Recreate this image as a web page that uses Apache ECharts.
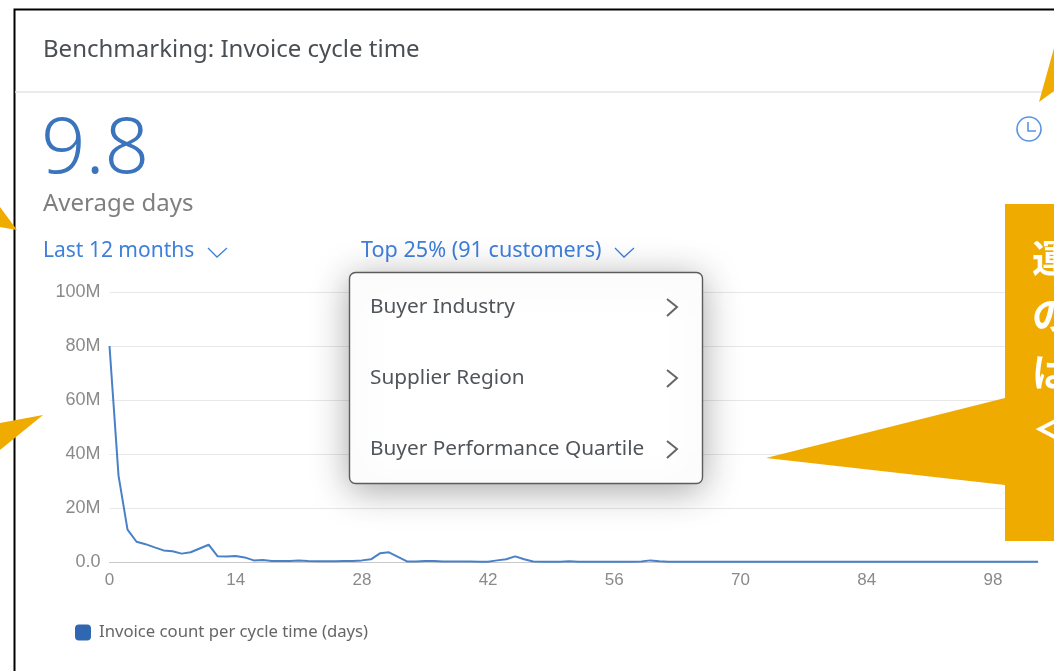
<!DOCTYPE html>
<html>
<head>
<meta charset="utf-8">
<style>
  html, body { margin: 0; padding: 0; background: #fff; }
  #chart-container { width: 1054px; height: 671px; }
</style>
<script src="https://cdn.jsdelivr.net/npm/echarts@6/dist/echarts.min.js"></script>
</head>
<body>
<div id="chart-container"></div>
<script>
// invoices (millions) per cycle time, days 0..103
const cycleDays = [];
for (let d = 0; d <= 103; d++) cycleDays.push(d);
const invoiceCounts = [
  80, 32, 12, 7.5, 6.6, 5.4, 4.3, 4, 3.1, 3.6, 5, 6.4, 2.1, 2, 2.2, 1.7, 0.6, 0.7, 0.4, 0.4,
  0.4, 0.6, 0.4, 0.3, 0.3, 0.3, 0.4, 0.4, 0.6, 1, 3.2, 3.6, 1.9, 0.2, 0.2, 0.4, 0.4, 0.2, 0.2, 0.2,
  0.2, 0.1, 0.1, 0.6, 1, 2.1, 1, 0.2, 0.1, 0.1, 0.1, 0.3, 0.1, 0.1, 0.1, 0.1, 0.1, 0.1, 0.1, 0.2,
  0.6, 0.3, 0.1, 0.1, 0.1, 0.1, 0.1, 0.1, 0.1, 0.1, 0.1, 0.1, 0.1, 0.1, 0.1, 0.1, 0.1, 0.1, 0.1, 0.1,
  0.1, 0.1, 0.1, 0.1, 0.1, 0.1, 0.1, 0.1, 0.1, 0.1, 0.1, 0.1, 0.1, 0.1, 0.1, 0.1, 0.1, 0.1, 0.1, 0.1,
  0.1, 0.1, 0.1, 0.1
];
const seriesName = 'Invoice count per cycle time (days)';
const menuItems = ['Buyer Industry', 'Supplier Region', 'Buyer Performance Quartile'];
const calloutChars = ['運', 'の', 'は', '＜'];

const uiFont = '"Noto Sans", "Open Sans", sans-serif';
const axisFont = '"Liberation Sans", Arial, sans-serif';
const orange = '#f0ab00';
const linkBlue = '#3f7fdc';

function label(text, x, y, size, color, z, weight) {
  return {
    type: 'text', z: z || 5,
    style: { text, x, y, fill: color, font: (weight || 400) + ' ' + size + 'px ' + uiFont, textVerticalAlign: 'middle' }
  };
}
function stroke(points, color, width, z) {
  return {
    type: 'polyline', z: z || 5,
    shape: { points },
    style: { stroke: color, lineWidth: width, fill: null }
  };
}
function wedge(points) {
  return { type: 'polygon', z: 30, shape: { points }, style: { fill: orange } };
}

const chart = echarts.init(document.getElementById('chart-container'));

const graphics = [
  // card frame and header
  stroke([[14.5, 671], [14.5, 9.5], [1054, 9.5]], '#000', 2, 4),
  stroke([[15, 92], [1054, 92]], '#e4e4e4', 1.5, 4),
  label('Benchmarking: Invoice cycle time', 43, 50, 24, '#4a4f54'),
  label('9.8', 41, 151, 78, '#3a74bd', 5, 300),
  label('Average days', 43, 204, 24, '#7f7f7f'),
  label('Last 12 months', 43, 251, 21, linkBlue),
  stroke([[208, 248], [217, 257], [227, 248]], linkBlue, 1.3),
  label('Top 25% (91 customers)', 361, 251, 21.6, linkBlue),
  stroke([[615, 248], [624, 257], [634, 248]], linkBlue, 1.3),
  // clock icon
  { type: 'circle', z: 5, shape: { cx: 1029, cy: 129, r: 12 }, style: { fill: '#fff', stroke: '#5a93e4', lineWidth: 1.6 } },
  stroke([[1028, 122], [1028, 131], [1036, 131]], '#5a93e4', 1.6),
  // dropdown menu
  {
    type: 'rect', z: 20,
    shape: { x: 349.5, y: 272.5, width: 353, height: 211, r: 6 },
    style: { fill: '#fff', stroke: '#5c5c5c', lineWidth: 1.4, shadowBlur: 36, shadowColor: 'rgba(0,0,0,0.34)', shadowOffsetY: 6 }
  }
];
menuItems.forEach((item, i) => {
  const cy = 307 + i * 71;
  graphics.push(label(item, 370, cy, 20.8, '#50555a', 21));
  graphics.push(stroke([[667, cy - 8], [677, cy], [667, cy + 9]], '#666', 2, 21));
});
// orange callouts on top of the screenshot
graphics.push(wedge([[0, 207], [17, 230], [0, 227]]));
graphics.push(wedge([[0, 423], [43, 415], [0, 450]]));
graphics.push(wedge([[1054, 48], [1039, 102], [1054, 91]]));
graphics.push(wedge([[766, 458], [1005, 398], [1005, 485]]));
graphics.push({ type: 'rect', z: 30, shape: { x: 1005, y: 204, width: 49, height: 337 }, style: { fill: orange } });
calloutChars.forEach((ch, i) => {
  graphics.push({
    type: 'text', z: 31,
    style: { text: ch, x: 1032, y: 258 + i * 57, fill: '#fff', font: '700 38px "Noto Sans CJK JP", sans-serif', textVerticalAlign: 'middle' }
  });
});

const option = {
  animation: false,
  backgroundColor: '#fff',
  grid: { left: 109.5, top: 292, width: 928.5, height: 270, containLabel: false },
  xAxis: {
    type: 'value', min: 0, max: 103, interval: 14,
    axisLine: { onZero: true, lineStyle: { color: '#c8c8c8', width: 1 } },
    axisTick: { show: false },
    splitLine: { show: false },
    axisLabel: { color: '#8a8a8a', fontSize: 17, fontFamily: axisFont, margin: 10, showMaxLabel: false }
  },
  yAxis: {
    type: 'value', min: 0, max: 100, interval: 20,
    axisLine: { show: false },
    axisTick: { show: false },
    splitLine: { lineStyle: { color: '#e8e8e8', width: 1 } },
    axisLabel: {
      color: '#8a8a8a', fontSize: 18, fontFamily: axisFont, margin: 9, padding: [2, 0, 0, 0],
      formatter: v => (v === 0 ? '0.0' : v + 'M')
    }
  },
  legend: {
    left: 75, top: 624, padding: 0,
    itemWidth: 16, itemHeight: 16, itemGap: 8,
    icon: 'roundRect',
    data: [seriesName],
    textStyle: { color: '#666', fontSize: 16.7, fontFamily: uiFont, padding: [0, 0, 0, 3] }
  },
  series: [{
    name: seriesName,
    type: 'line',
    data: cycleDays.map((d, i) => [d, invoiceCounts[i]]),
    showSymbol: false,
    z: 3,
    itemStyle: { color: '#2f67b1' },
    lineStyle: { color: '#4a80c8', width: 2 }
  }],
  graphic: graphics
};

chart.setOption(option);
</script>
</body>
</html>
